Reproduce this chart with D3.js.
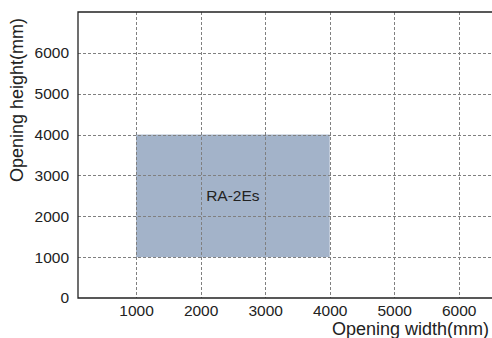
<!DOCTYPE html>
<html>
<head>
<meta charset="utf-8">
<script src="https://cdn.jsdelivr.net/npm/d3@7"></script>
<style>
  body { margin: 0; background: #fff; }
  svg { display: block; font-family: "Liberation Sans", Arial, sans-serif; }
</style>
</head>
<body>
<svg id="chart" width="492" height="338"></svg>
<script>
// data
const xTicks = [1000, 2000, 3000, 4000, 5000, 6000];
const yTicks = [0, 1000, 2000, 3000, 4000, 5000, 6000];
const ranges = [
  { name: "RA-2Es", x0: 1000, x1: 4000, y0: 1000, y1: 4000 }
];

const width = 492, height = 338;
const plot = { left: 78, right: 491, top: 12, bottom: 298 };

const svg = d3.select("#chart");

const x = d3.scaleLinear().domain([100, 6500]).range([plot.left, plot.right]);
const y = d3.scaleLinear().domain([0, 7000]).range([plot.bottom, plot.top]);

// filled ranges
svg.append("g").selectAll("rect")
  .data(ranges)
  .join("rect")
  .attr("x", d => x(d.x0))
  .attr("y", d => y(d.y1))
  .attr("width", d => x(d.x1) - x(d.x0))
  .attr("height", d => y(d.y0) - y(d.y1))
  .attr("fill", "#a3b3c9");

// grid
const grid = svg.append("g")
  .attr("stroke", "#808080")
  .attr("stroke-width", 1)
  .attr("stroke-dasharray", "3,2");

grid.selectAll(".gx")
  .data(xTicks)
  .join("line")
  .attr("class", "gx")
  .attr("x1", d => Math.round(x(d)) + 0.5)
  .attr("x2", d => Math.round(x(d)) + 0.5)
  .attr("y1", plot.top)
  .attr("y2", plot.bottom);

grid.selectAll(".gy")
  .data(yTicks.filter(d => d > 0))
  .join("line")
  .attr("class", "gy")
  .attr("x1", plot.left)
  .attr("x2", width)
  .attr("y1", d => Math.round(y(d)) + 0.5)
  .attr("y2", d => Math.round(y(d)) + 0.5);

// range labels
svg.append("g").selectAll("text")
  .data(ranges)
  .join("text")
  .attr("x", d => x((d.x0 + d.x1) / 2))
  .attr("y", d => y((d.y0 + d.y1) / 2))
  .attr("text-anchor", "middle")
  .attr("dominant-baseline", "central")
  .attr("font-size", 15.5)
  .attr("fill", "#222")
  .text(d => d.name);

// axis frame: left, bottom, top
svg.append("path")
  .attr("d", `M${width},${plot.top}H${plot.left}V${plot.bottom}H${width}`)
  .attr("stroke", "#222")
  .attr("stroke-width", 1.3)
  .attr("fill", "none");

// axes with hidden tick lines
const xAxis = svg.append("g")
  .attr("transform", `translate(0,${plot.bottom})`)
  .call(d3.axisBottom(x).tickValues(xTicks).tickSize(0).tickPadding(7).tickFormat(d3.format("d")));
const yAxis = svg.append("g")
  .attr("transform", `translate(${plot.left},0)`)
  .call(d3.axisLeft(y).tickValues(yTicks).tickSize(0).tickPadding(9).tickFormat(d3.format("d")));

[xAxis, yAxis].forEach(a => {
  a.select(".domain").remove();
  a.selectAll("text")
    .attr("font-family", "Liberation Sans, Arial, sans-serif")
    .attr("font-size", 15.5)
    .attr("fill", "#222");
});

// axis titles
svg.append("text")
  .attr("x", 489)
  .attr("y", 335)
  .attr("text-anchor", "end")
  .attr("font-size", 18)
  .attr("fill", "#222")
  .text("Opening width(mm)");

svg.append("text")
  .attr("transform", `translate(23,100) rotate(-90)`)
  .attr("text-anchor", "middle")
  .attr("font-size", 18)
  .attr("fill", "#222")
  .text("Opening height(mm)");
</script>
</body>
</html>
